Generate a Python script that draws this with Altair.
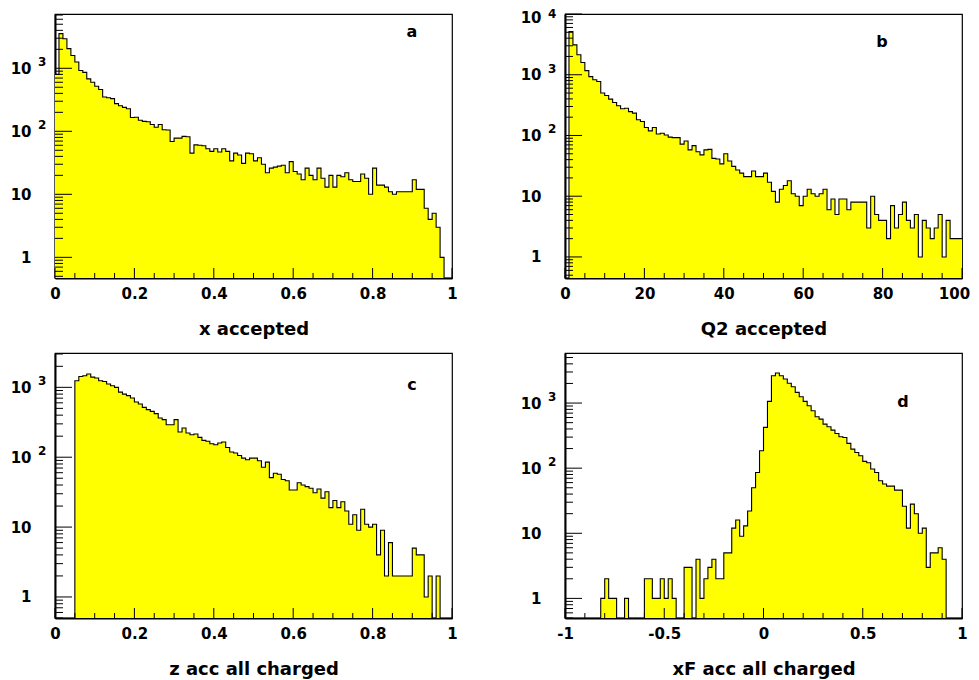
import altair as alt
import pandas as pd

FONT = "DejaVu Sans"

# ---------------- bin contents ----------------
x_counts = [800, 3550, 2950, 2050, 1600, 1260, 920, 860, 680, 600,
            520, 460, 350, 340, 330, 275, 255, 240, 228, 166,
            167, 150, 144, 142, 128, 116, 128, 106, 105, 69,
            78, 78, 83, 82, 45, 61, 60, 59, 53, 48,
            53, 47, 53, 48, 34, 45, 42, 31, 45, 44,
            34, 38, 30, 22, 26, 27, 28, 29, 22, 33,
            23, 21, 17, 26, 20, 17, 26, 18, 13, 20,
            13, 20, 19, 22, 17, 16, 16, 21, 18, 10,
            26, 14, 14, 13, 11, 10, 11, 11, 11, 11,
            17, 12, 12, 6, 4, 5, 3, 1, 0, 0]

q2_counts = [0, 5150, 3100, 2130, 1590, 1170, 930, 825, 775, 500,
             454, 397, 350, 308, 275, 281, 247, 233, 181, 170,
             135, 119, 135, 106, 109, 102, 94, 92, 92, 72,
             81, 58, 68, 54, 48, 58, 59, 42, 41, 34,
             50, 38, 31, 27, 24, 21, 21, 26, 21, 21,
             24, 17, 12, 8, 13, 15, 18, 11, 10, 7,
             10, 13, 11, 10, 11, 13, 6, 9, 5, 9,
             9, 6, 8, 8, 8, 8, 3, 10, 5, 4,
             4, 2, 7, 3, 5, 8, 4, 3, 5, 1,
             4, 3, 2, 3, 5, 1, 4, 2, 2, 2]

z_counts = [0, 0, 0, 0, 0, 1240, 1430, 1465, 1550, 1400,
            1360, 1240, 1215, 1115, 1055, 1000, 855, 800, 760, 703,
            617, 577, 516, 479, 453, 420, 364, 345, 292, 292,
            345, 230, 262, 222, 210, 215, 192, 174, 169, 156,
            151, 160, 165, 138, 119, 115, 106, 97, 92, 97,
            97, 89, 72, 85, 51, 59, 57, 48, 46, 34,
            34, 43, 40, 38, 36, 31, 35, 26, 32, 19,
            24, 19, 23, 17, 11, 15, 9, 18, 11, 10,
            11, 4, 9, 2, 6, 2, 2, 2, 2, 2,
            5, 4, 4, 1, 2, 0, 2, 0, 0, 0]

xf_counts = [0, 0, 0, 0, 0, 0, 0, 0, 0, 1,
             2, 1, 1, 0, 0, 1, 0, 0, 0, 0,
             2, 2, 1, 1, 2, 1, 2, 1, 0, 0,
             3, 3, 0, 4, 1, 2, 3, 4, 2, 2,
             5, 5, 12, 16, 9, 13, 22, 50, 86, 185,
             423, 1060, 2630, 2890, 2630, 2340, 2010, 1780, 1460, 1250,
             1060, 910, 762, 616, 567, 475, 432, 384, 341, 303,
             296, 240, 196, 174, 155, 127, 121, 97, 86, 64,
             57, 53, 53, 46, 46, 26, 12, 28, 20, 10,
             12, 3, 5, 5, 6, 4, 0, 0, 0, 0]

unit_ticks = [0, 0.2, 0.4, 0.6, 0.8, 1]
unit_minor = [0.05, 0.1, 0.15, 0.25, 0.3, 0.35, 0.45, 0.5, 0.55, 0.65,
              0.7, 0.75, 0.85, 0.9, 0.95]
q2_ticks = [0, 20, 40, 60, 80, 100]
q2_minor = [5, 10, 15, 25, 30, 35, 45, 50, 55, 65, 70, 75, 85, 90, 95]
xf_ticks = [-1, -0.5, 0, 0.5, 1]
xf_minor = [-0.9, -0.8, -0.7, -0.6, -0.4, -0.3, -0.2, -0.1,
            0.1, 0.2, 0.3, 0.4, 0.6, 0.7, 0.8, 0.9]
decades = [1, 10, 100, 1000, 10000]
exp_values = [100, 1000, 10000]
exp_texts = ["2", "3", "4"]
mantissas = [2, 3, 4, 5, 6, 7, 8, 9]

W = 397


def panel(counts, lo, hi, ydom, h, xticks, xminor, title, letter, lx, ly,
          tpad, anchor=False):
    n = len(counts)
    step = (hi - lo) / n
    df = pd.DataFrame({"x": [lo + i * step for i in range(n + 1)],
                       "v": counts + [counts[-1]]})
    xs = alt.Scale(domain=[lo, hi], nice=False, zero=False)
    ys = alt.Scale(type="log", domain=ydom, nice=False)
    ymaj = [d for d in decades if ydom[0] <= d <= ydom[1]]
    ymin = [m * d / 10 for d in decades for m in mantissas
            if ydom[0] <= m * d / 10 <= ydom[1]]

    xaxis = alt.Axis(values=xticks, title=title, ticks=False, grid=False,
                     labelExpr="replace(format(datum.value, '~g'), '\u2212', '-')",
                     labelFlush=False, labelOverlap=False,
                     labelOffset={"condition": {"test": "datum.value >= 100",
                                                "value": -8},
                                  "value": 0},
                     domainColor="black", domainWidth=2,
                     labelFont=FONT, labelFontWeight="bold", labelFontSize=15,
                     labelColor="black", labelPadding=8,
                     titleFont=FONT, titleFontWeight="bold", titleFontSize=18,
                     titleColor="black", titlePadding=tpad)
    yaxis = alt.Axis(values=ymaj, title=None, ticks=False, grid=False,
                     labelExpr="datum.value < 5 ? '1' : '10'",
                     labelOverlap=False, labelFlush=False,
                     labelOffset={"condition": {"test": "datum.value >= 10000",
                                                "value": 3},
                                  "value": 0},
                     domainColor="black", domainWidth=2,
                     labelFont=FONT, labelFontWeight="bold", labelFontSize=15,
                     labelColor="black", labelPadding=24)

    base = alt.Chart(df).transform_calculate(vv="max(datum.v, 0.01)", b="0.01")
    area = base.mark_area(interpolate="step-after", color="#ffff00",
                          clip=True).encode(
        x=alt.X("x:Q", scale=xs, axis=xaxis),
        y=alt.Y("vv:Q", scale=ys, axis=yaxis),
        y2="b:Q")
    line = base.mark_line(interpolate="step-after", color="black",
                          strokeWidth=1.1, clip=True).encode(
        x=alt.X("x:Q", scale=xs, axis=xaxis),
        y=alt.Y("vv:Q", scale=ys, axis=yaxis))

    ymin_r = alt.Chart(pd.DataFrame({"t": ymin})).mark_rule(
        color="black", strokeWidth=1).encode(
        y=alt.Y("t:Q", scale=ys, axis=yaxis), x=alt.value(0), x2=alt.value(8))
    ymaj_r = alt.Chart(pd.DataFrame({"t": ymaj})).mark_rule(
        color="black", strokeWidth=1).encode(
        y=alt.Y("t:Q", scale=ys, axis=yaxis), x=alt.value(0), x2=alt.value(17))
    xmin_r = alt.Chart(pd.DataFrame({"t": xminor})).mark_rule(
        color="black", strokeWidth=1).encode(
        x=alt.X("t:Q", scale=xs, axis=xaxis), y=alt.value(h), y2=alt.value(h - 5))
    xmaj_r = alt.Chart(pd.DataFrame({"t": xticks})).mark_rule(
        color="black", strokeWidth=1).encode(
        x=alt.X("t:Q", scale=xs, axis=xaxis), y=alt.value(h), y2=alt.value(h - 10))

    ev_in = [(v, t) for v, t in zip(exp_values, exp_texts) if v < ydom[1] * 0.9]
    ev_top = [(v, t) for v, t in zip(exp_values, exp_texts)
              if ydom[1] * 0.9 <= v <= ydom[1] * 1.01]
    layers = [area, line, ymin_r, ymaj_r, xmin_r, xmaj_r]
    for group, dy in ((ev_in, -6), (ev_top, 0)):
        if group:
            layers.append(alt.Chart(pd.DataFrame(
                {"v": [e[0] for e in group], "t": [e[1] for e in group]})).mark_text(
                align="left", baseline="middle", font=FONT, fontWeight="bold",
                fontSize=12, dy=dy, color="black").encode(
                y=alt.Y("v:Q", scale=ys, axis=yaxis), x=alt.value(-17), text="t:N"))

    layers.append(alt.Chart(pd.DataFrame({"t": [letter]})).mark_text(
        align="center", baseline="alphabetic", font=FONT, fontWeight="bold",
        fontSize=16, color="black").encode(
        x=alt.value(lx), y=alt.value(ly), text="t:N"))

    if anchor:
        # invisible layout anchor that fixes the chart's top-left extent
        layers.append(alt.Chart(pd.DataFrame({"t": [0]})).mark_rule(
            strokeWidth=0, opacity=0).encode(
            x=alt.value(-50), x2=alt.value(-40), y=alt.value(-20)))

    return alt.layer(*layers).properties(width=W, height=h)


pa = panel(x_counts, 0, 1, [0.47, 7270], 264, unit_ticks, unit_minor,
           "x accepted", "a", 357, 23, 19, anchor=True)
pb = panel(q2_counts, 0, 100, [0.45, 10000], 264, q2_ticks, q2_minor,
           "Q2 accepted", "b", 317, 33, 19)
pc = panel(z_counts, 0, 1, [0.5, 3100], 265, unit_ticks, unit_minor,
           "z acc all charged", "c", 357, 37, 19)
pd_ = panel(xf_counts, -1, 1, [0.5, 5870], 265, xf_ticks, xf_minor,
            "xF acc all charged", "d", 338, 54, 19)

chart = alt.concat(pa, pb, pc, pd_, columns=2,
                   spacing={"row": 75, "column": 113}).properties(
    bounds="flush",
    padding={"left": -4, "top": -15, "right": 0, "bottom": 0},
    background="white",
).configure_view(stroke="black", strokeWidth=1.2)

chart.save("out.html", embed_options={"renderer": "svg", "actions": False})
